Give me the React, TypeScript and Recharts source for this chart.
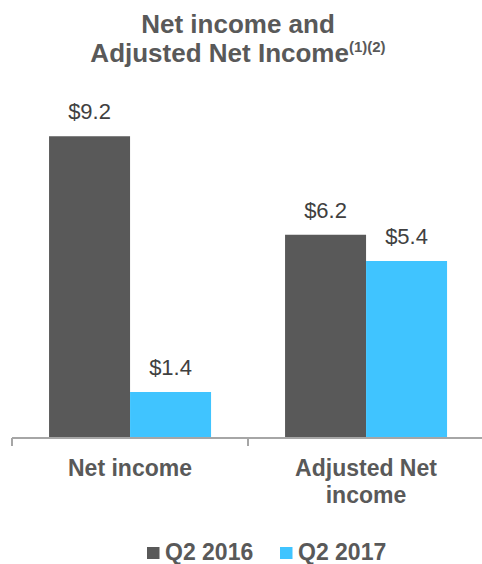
import { BarChart, Bar, XAxis, YAxis, LabelList } from 'recharts';

const categories = ['Net income', 'Adjusted Net income'];
const tickLines = [['Net income'], ['Adjusted Net', 'income']];
const q2_2016 = [9.2, 6.2];
const q2_2017 = [1.4, 5.4];
const seriesNames = ['Q2 2016', 'Q2 2017'];

const DARK = '#595959';
const LIGHT = '#40C4FF';
const FONT = '"Liberation Sans", Arial, sans-serif';

const data = categories.map((name, i) => ({
  name,
  q2_2016: q2_2016[i],
  q2_2017: q2_2017[i],
}));

const CHART_W = 500;
const MARGIN = { top: 110, right: 16, left: 12, bottom: 66 };
const BAND = (CHART_W - MARGIN.left - MARGIN.right) / categories.length;

const CategoryTick = (props: any) => {
  const { x, y, payload, index } = props;
  const lines = tickLines[index] ?? [payload.value];
  return (
    <g>
      <line x1={x - BAND / 2} x2={x - BAND / 2} y1={y - 6} y2={y + 2} stroke="#a6a6a6" strokeWidth={2} />
      {index === categories.length - 1 && (
        <line x1={x + BAND / 2} x2={x + BAND / 2} y1={y - 6} y2={y + 2} stroke="#a6a6a6" strokeWidth={2} />
      )}
      <text x={x} y={y + 32} textAnchor="middle" fill={DARK} fontSize={23} fontWeight="bold" fontFamily={FONT}>
        {lines.map((l: string, i: number) => (
          <tspan key={i} x={x} dy={i === 0 ? 0 : 27}>
            {l}
          </tspan>
        ))}
      </text>
    </g>
  );
};

const fmt = (v: any) => `$${Number(v).toFixed(1)}`;

export default function App() {
  return (
    <div style={{ position: 'absolute', left: 0, top: 0, width: 482, height: 564, overflow: 'hidden', background: '#fff', fontFamily: FONT }}>
      <BarChart width={CHART_W} height={564} data={data} margin={MARGIN} barCategoryGap="15.7%" barGap={0}>
        <XAxis
          dataKey="name"
          axisLine={{ stroke: '#a6a6a6', strokeWidth: 2 }}
          tickLine={false}
          tickSize={6}
          tickMargin={0}
          height={60}
          interval={0}
          tick={<CategoryTick />}
        />
        <YAxis hide domain={[0, 10]} />
        <Bar dataKey="q2_2016" fill={DARK} isAnimationActive={false}>
          <LabelList dataKey="q2_2016" position="top" offset={17} formatter={fmt} fill="#404040" fontSize={22} fontFamily={FONT} />
        </Bar>
        <Bar dataKey="q2_2017" fill={LIGHT} isAnimationActive={false}>
          <LabelList dataKey="q2_2017" position="top" offset={17} formatter={fmt} fill="#404040" fontSize={22} fontFamily={FONT} />
        </Bar>
      </BarChart>
      <svg width={482} height={564} style={{ position: 'absolute', left: 0, top: 0, pointerEvents: 'none' }}>
        <text x={238} y={33} textAnchor="middle" fill={DARK} fontSize={26} fontWeight="bold" fontFamily={FONT}>
          Net income and
        </text>
        <text x={238} y={62} textAnchor="middle" fill={DARK} fontSize={26} fontWeight="bold" fontFamily={FONT}>
          Adjusted Net Income
          <tspan fontSize={15} dy={-10}>(1)(2)</tspan>
        </text>
        {seriesNames.map((s, i) => (
          <g key={s}>
            <rect x={147 + i * 133} y={547} width={12.5} height={12} fill={i === 0 ? DARK : LIGHT} />
            <text x={165 + i * 133} y={560} fill={DARK} fontSize={23} fontWeight="bold" fontFamily={FONT}>
              {s}
            </text>
          </g>
        ))}
      </svg>
    </div>
  );
}
